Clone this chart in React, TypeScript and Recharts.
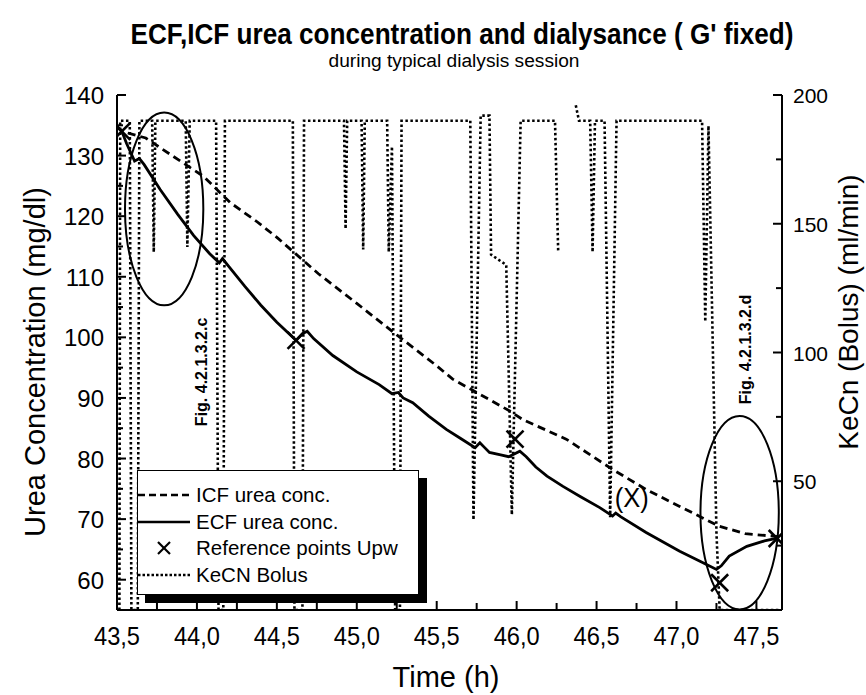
import {
  ComposedChart,
  Line,
  Scatter,
  XAxis,
  YAxis,
  Legend,
  ReferenceArea,
  ReferenceDot,
} from "recharts";

// ---- data ----
const icfUrea = [
  { t: 43.5, v: 134.8 }, { t: 43.53, v: 134 }, { t: 43.68, v: 132.9 }, { t: 43.85, v: 129.9 },
  { t: 44.04, v: 126.6 }, { t: 44.21, v: 122.2 }, { t: 44.37, v: 119.2 }, { t: 44.5, v: 116.5 },
  { t: 44.76, v: 110.5 }, { t: 45.0, v: 105.6 }, { t: 45.25, v: 100.4 }, { t: 45.5, v: 95.3 },
  { t: 45.6, v: 93.1 }, { t: 45.75, v: 90.9 }, { t: 45.96, v: 87.8 }, { t: 46.04, v: 86.4 },
  { t: 46.31, v: 83.2 }, { t: 46.6, v: 78.2 }, { t: 46.81, v: 74.9 }, { t: 47.02, v: 72.1 },
  { t: 47.14, v: 70.5 }, { t: 47.27, v: 68.8 }, { t: 47.43, v: 67.6 }, { t: 47.64, v: 67.1 },
];

const ecfUrea = [
  { t: 43.5, v: 134.8 }, { t: 43.53, v: 134 }, { t: 43.56, v: 132 }, { t: 43.61, v: 129.1 },
  { t: 43.64, v: 129.5 }, { t: 43.67, v: 128.5 }, { t: 43.77, v: 124.4 }, { t: 43.88, v: 120.3 },
  { t: 43.98, v: 116.8 }, { t: 44.08, v: 113.8 }, { t: 44.14, v: 112.3 }, { t: 44.16, v: 113.0 },
  { t: 44.19, v: 112.0 }, { t: 44.3, v: 108.4 }, { t: 44.4, v: 105.3 }, { t: 44.5, v: 102.5 },
  { t: 44.62, v: 99.5 }, { t: 44.66, v: 100.6 }, { t: 44.69, v: 101.0 }, { t: 44.73, v: 99.8 },
  { t: 44.85, v: 97.0 }, { t: 45.0, v: 94.3 }, { t: 45.14, v: 92.2 }, { t: 45.22, v: 90.7 },
  { t: 45.26, v: 90.9 }, { t: 45.29, v: 90.0 }, { t: 45.35, v: 89.2 }, { t: 45.45, v: 87.0 },
  { t: 45.56, v: 84.8 }, { t: 45.65, v: 83.3 }, { t: 45.74, v: 81.8 }, { t: 45.77, v: 82.6 },
  { t: 45.8, v: 81.8 }, { t: 45.83, v: 81.0 }, { t: 45.9, v: 80.6 }, { t: 45.95, v: 80.3 },
  { t: 46.02, v: 81.2 }, { t: 46.06, v: 80.3 }, { t: 46.12, v: 78.6 }, { t: 46.19, v: 77.1 },
  { t: 46.29, v: 75.4 }, { t: 46.4, v: 73.7 }, { t: 46.52, v: 71.9 }, { t: 46.6, v: 70.5 },
  { t: 46.62, v: 71.0 }, { t: 46.65, v: 70.4 }, { t: 46.81, v: 67.8 }, { t: 47.02, v: 64.7 },
  { t: 47.15, v: 63.0 }, { t: 47.25, v: 61.7 }, { t: 47.28, v: 62.3 }, { t: 47.33, v: 63.9 },
  { t: 47.44, v: 65.5 }, { t: 47.55, v: 66.4 }, { t: 47.64, v: 66.9 },
];

const refPoints = [
  { t: 43.53, v: 134 }, { t: 44.62, v: 99.5 }, { t: 45.99, v: 83.2 },
  { t: 47.27, v: 59.5 }, { t: 47.63, v: 66.8 },
];

const kecnBolus = [
  { t: 43.515, k: 0 }, { t: 43.52, k: 190 }, { t: 43.58, k: 190 }, { t: 43.59, k: 0 },
  { t: 43.63, k: 0 }, { t: 43.64, k: 190 }, { t: 43.72, k: 190 }, { t: 43.73, k: 139 },
  { t: 43.74, k: 190 }, { t: 43.93, k: 190 }, { t: 43.94, k: 141 }, { t: 43.955, k: 190 },
  { t: 44.12, k: 190 }, { t: 44.135, k: 0 }, { t: 44.165, k: 0 }, { t: 44.175, k: 190 },
  { t: 44.6, k: 190 }, { t: 44.61, k: 0 }, { t: 44.66, k: 0 }, { t: 44.67, k: 190 },
  { t: 44.92, k: 190 }, { t: 44.93, k: 148 }, { t: 44.94, k: 190 }, { t: 45.03, k: 190 },
  { t: 45.04, k: 140 }, { t: 45.05, k: 190 }, { t: 45.19, k: 190 }, { t: 45.2, k: 139 },
  { t: 45.22, k: 180 }, { t: 45.24, k: 0 }, { t: 45.27, k: 0 }, { t: 45.28, k: 190 },
  { t: 45.71, k: 190 }, { t: 45.73, k: 35 }, { t: 45.775, k: 192 }, { t: 45.83, k: 192 },
  { t: 45.84, k: 138 }, { t: 45.935, k: 134 }, { t: 45.97, k: 37 }, { t: 46.025, k: 190 },
  { t: 46.24, k: 190 }, { t: 46.26, k: 139 }, { t: 46.3, k: null }, { t: 46.37, k: 196 },
  { t: 46.39, k: 190 }, { t: 46.46, k: 190 }, { t: 46.475, k: 139 }, { t: 46.49, k: 190 },
  { t: 46.55, k: 190 }, { t: 46.585, k: 36 }, { t: 46.625, k: 190 }, { t: 47.16, k: 190 },
  { t: 47.18, k: 112 }, { t: 47.2, k: 188 }, { t: 47.25, k: 30 }, { t: 47.27, k: 0 },
  { t: 47.65, k: 0 },
];

const xTicks = [43.5, 43.75, 44, 44.25, 44.5, 44.75, 45, 45.25, 45.5, 45.75, 46, 46.25, 46.5, 46.75, 47, 47.25, 47.5];
const leftTicks = [55, 60, 65, 70, 75, 80, 85, 90, 95, 100, 105, 110, 115, 120, 125, 130, 135, 140];
const rightTicks = [0, 25, 50, 75, 100, 125, 150, 175, 200];

const FONT = "'Liberation Sans', Arial, sans-serif";

const fmtX = (v: number) => v.toFixed(1).replace(".", ",");

const BottomTick = (p: any) => {
  const v = p.payload.value;
  const major = Math.abs(v * 2 - Math.round(v * 2)) < 1e-6;
  return (
    <g>
      <line x1={p.x} x2={p.x} y1={p.y} y2={p.y - (major ? 9 : 7)} stroke="#000" strokeWidth={2} />
      {major && (
        <text x={p.x} y={p.y + 35} textAnchor="middle" fontSize={25} fontFamily={FONT} fill="#000"
          textLength={46} lengthAdjust="spacingAndGlyphs">
          {fmtX(v)}
        </text>
      )}
    </g>
  );
};

const TopTick = (p: any) => {
  const v = p.payload.value;
  const major = Math.abs(v * 2 - Math.round(v * 2)) < 1e-6;
  return <line x1={p.x} x2={p.x} y1={p.y} y2={p.y + (major ? 10 : 7)} stroke="#000" strokeWidth={2} />;
};

const LeftTick = (p: any) => {
  const v = p.payload.value;
  const major = v % 10 === 0;
  return (
    <g>
      <line x1={p.x} x2={p.x + (major ? 9 : 6)} y1={p.y} y2={p.y} stroke="#000" strokeWidth={2} />
      {major && (
        <text x={p.x - 13} y={p.y + 9} textAnchor="end" fontSize={24} fontFamily={FONT} fill="#000">
          {v}
        </text>
      )}
    </g>
  );
};

const RightTick = (p: any) => {
  const v = p.payload.value;
  const major = v % 50 === 0;
  return (
    <g>
      <line x1={p.x} x2={p.x - (major ? 9 : 6)} y1={p.y} y2={p.y} stroke="#000" strokeWidth={2} />
      {major && v > 0 && (
        <text x={p.x + 11} y={p.y + 8} textAnchor="start" fontSize={21} fontFamily={FONT} fill="#000">
          {v}
        </text>
      )}
    </g>
  );
};

const Cross = (p: any) => {
  const s = 8.5;
  return (
    <g stroke="#000" strokeWidth={2.6}>
      <line x1={p.cx - s} y1={p.cy - s} x2={p.cx + s} y2={p.cy + s} />
      <line x1={p.cx - s} y1={p.cy + s} x2={p.cx + s} y2={p.cy - s} />
    </g>
  );
};

const Oval = (p: any) => (
  <ellipse
    cx={p.x + p.width / 2}
    cy={p.y + p.height / 2}
    rx={p.width / 2}
    ry={p.height / 2}
    fill="none"
    stroke="#000"
    strokeWidth={2}
  />
);

const vertText = (label: string, size: number, bold: boolean) => (p: any) => (
  <text
    x={p.cx}
    y={p.cy}
    transform={`rotate(-90 ${p.cx} ${p.cy})`}
    textAnchor="middle"
    dominantBaseline="central"
    fontSize={size}
    fontWeight={bold ? "bold" : "normal"}
    fontFamily={FONT}
    fill="#000"
  >
    {label}
  </text>
);

const plainText = (label: string) => (p: any) => (
  <text x={p.cx} y={p.cy + 9} textAnchor="middle" fontSize={27} fontFamily={FONT} fill="#000"
    textLength={34} lengthAdjust="spacingAndGlyphs">
    {label}
  </text>
);

const legendRows = [
  { name: "ICF urea conc.", kind: "dash" },
  { name: "ECF urea conc.", kind: "solid" },
  { name: "Reference points Upw", kind: "cross" },
  { name: "KeCN Bolus", kind: "dot" },
];

const LegendBox = () => (
  <div
    style={{
      width: 282,
      height: 125,
      border: "1px solid #000",
      background: "#fff",
      boxShadow: "8px 8px 0 #000",
      fontFamily: FONT,
      fontSize: 20.5,
      lineHeight: "22px",
      paddingTop: 11,
      boxSizing: "border-box",
    }}
  >
    {legendRows.map((r) => (
      <div key={r.name} style={{ display: "flex", alignItems: "center", height: 26.5, whiteSpace: "nowrap" }}>
        <svg width={58} height={20} style={{ flex: "none" }}>
          {r.kind === "dash" && <line x1={0} x2={52} y1={10} y2={10} stroke="#000" strokeWidth={2.6} strokeDasharray="7 4" />}
          {r.kind === "solid" && <line x1={0} x2={52} y1={10} y2={10} stroke="#000" strokeWidth={2.6} />}
          {r.kind === "dot" && <line x1={0} x2={52} y1={10} y2={10} stroke="#000" strokeWidth={2.6} strokeDasharray="2.5 2" />}
          {r.kind === "cross" && (
            <g stroke="#000" strokeWidth={2.2}>
              <line x1={20} y1={4} x2={32} y2={16} />
              <line x1={20} y1={16} x2={32} y2={4} />
            </g>
          )}
        </svg>
        <span>{r.name}</span>
      </div>
    ))}
  </div>
);

export default function App() {
  return (
    <div style={{ position: "absolute", left: 0, top: 0, width: 866, height: 695, background: "#fff" }}>
      <ComposedChart width={866} height={695} margin={{ top: 95, right: 24, bottom: 25, left: 57 }}>
        <XAxis
          xAxisId="b"
          type="number"
          dataKey="t"
          domain={[43.5, 47.66]}
          allowDataOverflow
          ticks={xTicks}
          interval={0}
          height={60}
          tickSize={0}
          tickMargin={0}
          tickLine={false}
          tick={<BottomTick />}
          axisLine={{ stroke: "#000", strokeWidth: 2 }}
        />
        <XAxis
          xAxisId="top"
          orientation="top"
          type="number"
          dataKey="t"
          domain={[43.5, 47.66]}
          allowDataOverflow
          ticks={xTicks}
          interval={0}
          height={0}
          tickSize={0}
          tickMargin={0}
          tickLine={false}
          tick={<TopTick />}
          axisLine={{ stroke: "#000", strokeWidth: 2 }}
        />
        <YAxis
          yAxisId="l"
          type="number"
          domain={[55, 140]}
          allowDataOverflow
          ticks={leftTicks}
          interval={0}
          width={60}
          tickSize={0}
          tickMargin={0}
          tickLine={false}
          tick={<LeftTick />}
          axisLine={{ stroke: "#000", strokeWidth: 2 }}
        />
        <YAxis
          yAxisId="r"
          orientation="right"
          type="number"
          domain={[0, 200]}
          allowDataOverflow
          ticks={rightTicks}
          interval={0}
          width={60}
          tickSize={0}
          tickMargin={0}
          tickLine={false}
          tick={<RightTick />}
          axisLine={{ stroke: "#000", strokeWidth: 2 }}
        />
        <Line
          xAxisId="b"
          yAxisId="r"
          data={kecnBolus}
          dataKey="k"
          type="linear"
          stroke="#000"
          strokeWidth={2.6}
          strokeDasharray="2.5 2.5"
          dot={false}
          isAnimationActive={false}
          connectNulls={false}
        />
        <Line
          xAxisId="b"
          yAxisId="l"
          data={icfUrea}
          dataKey="v"
          type="linear"
          stroke="#000"
          strokeWidth={2.8}
          strokeDasharray="8 5"
          dot={false}
          isAnimationActive={false}
        />
        <Line
          xAxisId="b"
          yAxisId="l"
          data={ecfUrea}
          dataKey="v"
          type="linear"
          stroke="#000"
          strokeWidth={2.8}
          dot={false}
          isAnimationActive={false}
        />
        <Scatter
          xAxisId="b"
          yAxisId="l"
          data={refPoints}
          dataKey="v"
          shape={<Cross />}
          isAnimationActive={false}
        />
        <ReferenceArea xAxisId="b" yAxisId="l" x1={43.55} x2={44.04} y1={105.3} y2={137.1} shape={<Oval />} />
        <ReferenceArea xAxisId="b" yAxisId="l" x1={47.15} x2={47.64} y1={55.1} y2={87.0} shape={<Oval />} />
        <ReferenceDot xAxisId="b" yAxisId="l" x={44.03} y={94.3} r={0} shape={vertText("Fig. 4.2.1.3.2.c", 16, true)} />
        <ReferenceDot xAxisId="b" yAxisId="l" x={47.43} y={98.0} r={0} shape={vertText("Fig. 4.2.1.3.2.d", 16, true)} />
        <ReferenceDot xAxisId="b" yAxisId="l" x={46.72} y={73.5} r={0} shape={plainText("(X)")} />
        <Legend
          layout="vertical"
          align="center"
          verticalAlign="middle"
          wrapperStyle={{ left: 137, top: 470, width: 282, height: 125 }}
          content={<LegendBox />}
        />
      </ComposedChart>
      <svg width={866} height={695} style={{ position: "absolute", left: 0, top: 0, pointerEvents: "none" }}>
        <text x={462} y={44} textAnchor="middle" fontSize={29} fontWeight="bold" fontFamily={FONT}
          textLength={663} lengthAdjust="spacingAndGlyphs">
          ECF,ICF urea concentration and dialysance ( G' fixed)
        </text>
        <text x={454} y={67} textAnchor="middle" fontSize={18} fontFamily={FONT}
          textLength={251} lengthAdjust="spacingAndGlyphs">
          during typical dialysis session
        </text>
        <text x={35} y={362} transform="rotate(-90 35 362)" textAnchor="middle" dominantBaseline="central"
          fontSize={29} fontFamily={FONT}>
          Urea Concentration (mg/dl)
        </text>
        <text x={848} y={312} transform="rotate(-90 848 312)" textAnchor="middle" dominantBaseline="central"
          fontSize={28} fontFamily={FONT}>
          KeCn (Bolus) (ml/min)
        </text>
        <text x={446} y={687} textAnchor="middle" fontSize={29} fontFamily={FONT}>
          Time (h)
        </text>
      </svg>
    </div>
  );
}
